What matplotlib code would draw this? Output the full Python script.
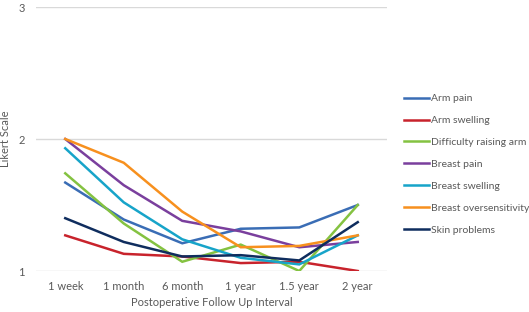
import matplotlib
matplotlib.use("Agg")
import matplotlib.pyplot as plt

categories = ["1 week", "1 month", "6 month", "1 year", "1.5 year", "2 year"]
arm_pain = [1.67, 1.39, 1.21, 1.32, 1.33, 1.50]
arm_swelling = [1.27, 1.13, 1.11, 1.06, 1.07, 1.00]
difficulty_raising_arm = [1.74, 1.36, 1.07, 1.20, 1.00, 1.50]
breast_pain = [2.00, 1.65, 1.38, 1.30, 1.18, 1.22]
breast_swelling = [1.93, 1.52, 1.24, 1.10, 1.05, 1.27]
breast_oversensitivity = [2.00, 1.82, 1.45, 1.18, 1.19, 1.27]
skin_problems = [1.40, 1.22, 1.11, 1.12, 1.08, 1.37]

series = [
    ("Arm pain", arm_pain, "#3A6DB5"),
    ("Arm swelling", arm_swelling, "#C8232C"),
    ("Difficulty raising arm", difficulty_raising_arm, "#84C241"),
    ("Breast pain", breast_pain, "#7A3F9D"),
    ("Breast swelling", breast_swelling, "#17A4C9"),
    ("Breast oversensitivity", breast_oversensitivity, "#F7901E"),
    ("Skin problems", skin_problems, "#0F2D5E"),
]

plt.rcParams['font.family'] = ['Lato', 'DejaVu Sans']
txt = "#595959"
fs = 8

fig = plt.figure(figsize=(5.29, 3.12), dpi=100)
ax = fig.add_axes([36/529, 1 - 271/312, (387-36)/529, (271-7)/312])

x = list(range(len(categories)))
for name, vals, col in series:
    ax.plot(x, vals, color=col, lw=1.8, label=name, solid_joinstyle='miter')

ax.set_xlim(-0.5, len(categories) - 0.5)
ax.set_ylim(1, 3)
ax.set_yticks([1, 2, 3])
ax.set_xticks(x)
ax.set_xticklabels(categories)
ax.grid(axis='y', color='#D9D9D9', lw=1)
ax.set_axisbelow(True)
for s in ax.spines.values():
    s.set_visible(False)
ax.tick_params(length=0, colors=txt, labelsize=fs)
ax.tick_params(axis='x', pad=7)
ax.tick_params(axis='y', pad=8)
ax.set_xlabel("Postoperative Follow Up Interval", color=txt, fontsize=fs, labelpad=4)
ax.set_ylabel("Likert Scale", color=txt, fontsize=fs)
ax.yaxis.set_label_coords(-25/351, 0.5)

leg = fig.legend(loc='upper left', bbox_to_anchor=(404/529, 1 - 94/312), frameon=False,
                 fontsize=7.5, handlelength=2.4, handletextpad=0.2, labelspacing=1.21,
                 borderaxespad=0, borderpad=0)
for t in leg.get_texts():
    t.set_color(txt)

fig.savefig("out.png", dpi=100)
